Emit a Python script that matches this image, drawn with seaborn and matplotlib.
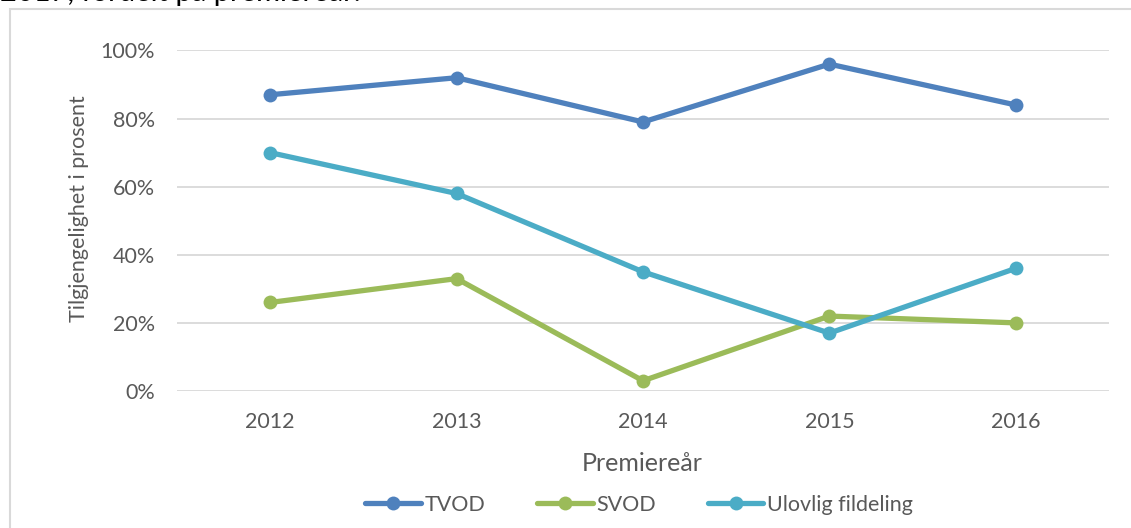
import pandas as pd
import matplotlib.pyplot as plt
import seaborn as sns
from matplotlib.patches import Rectangle
from matplotlib.ticker import PercentFormatter

years = ['2012', '2013', '2014', '2015', '2016']
tvod = [87, 92, 79, 96, 84]
svod = [26, 33, 3, 22, 20]
ulovlig = [70, 58, 35, 17, 36]
series_names = ['TVOD', 'SVOD', 'Ulovlig fildeling']
colors = ['#4F81BD', '#9BBB59', '#4BACC6']

sns.set_style('white')
plt.rcParams['font.family'] = ['Lato', 'DejaVu Sans']

df = pd.DataFrame({
    'year': years * 3,
    'value': tvod + svod + ulovlig,
    'serie': [s for s in series_names for _ in years],
})
df['pos'] = df['year'].map({y: i for i, y in enumerate(years)})

W, H = 1131, 528
fig = plt.figure(figsize=(W / 100, H / 100), dpi=100)
ax = fig.add_axes([0.1565, 0.2595, 0.824, 0.6449])

sns.lineplot(data=df, x='pos', y='value', hue='serie', palette=colors,
             marker='o', markersize=10, markeredgewidth=0, linewidth=3.8,
             ax=ax, legend=False)

text_col = '#595959'
ax.set_xlim(-0.5, 4.5)
ax.set_ylim(0, 100)
ax.set_yticks(range(0, 101, 20))
ax.yaxis.set_major_formatter(PercentFormatter(decimals=0))
ax.set_xticks(range(len(years)))
ax.set_xticklabels(years)
ax.grid(axis='y', color='#D9D9D9', linewidth=1.3)
ax.set_axisbelow(True)
for s in ax.spines.values():
    s.set_visible(False)
ax.tick_params(axis='both', length=0, labelsize=15.5, colors=text_col)
ax.tick_params(axis='y', pad=16)
ax.tick_params(axis='x', pad=15)
ax.set_xlabel('Premiereår', fontsize=18, color=text_col)
ax.set_ylabel('Tilgjengelighet i prosent', fontsize=15.5, color=text_col)
# place axis titles in pixel terms
ax.xaxis.set_label_coords((642 - 177) / 932, (391 - 464) / 340.5)
ax.yaxis.set_label_coords((79 - 177) / 932, (391 - 209) / 340.5)
ax.xaxis.label.set_va('center')
ax.yaxis.label.set_va('center')

handles = [plt.Line2D([], [], color=c, linewidth=3.8, marker='o', markersize=10,
                      markeredgewidth=0) for c in colors]
fig.legend(handles, series_names, loc='center', bbox_to_anchor=(639 / W, 1 - 505 / H),
           ncol=3, frameon=False, fontsize=15.5, handlelength=2.6,
           columnspacing=2.4, handletextpad=0.15, labelcolor=text_col,
           borderpad=0)

# chart frame, partially outside the image
fig.patches.append(Rectangle((10 / W, -0.1), 1.2, 1 - 9 / H + 0.1,
                             transform=fig.transFigure, fill=False,
                             edgecolor='#D9D9D9', linewidth=1.5))
fig.text(0.0, 1 - 1 / H, '2017, fordelt på premiereår.', fontsize=21,
         color='black', va='baseline', ha='left')

fig.savefig('out.png', dpi=100)
